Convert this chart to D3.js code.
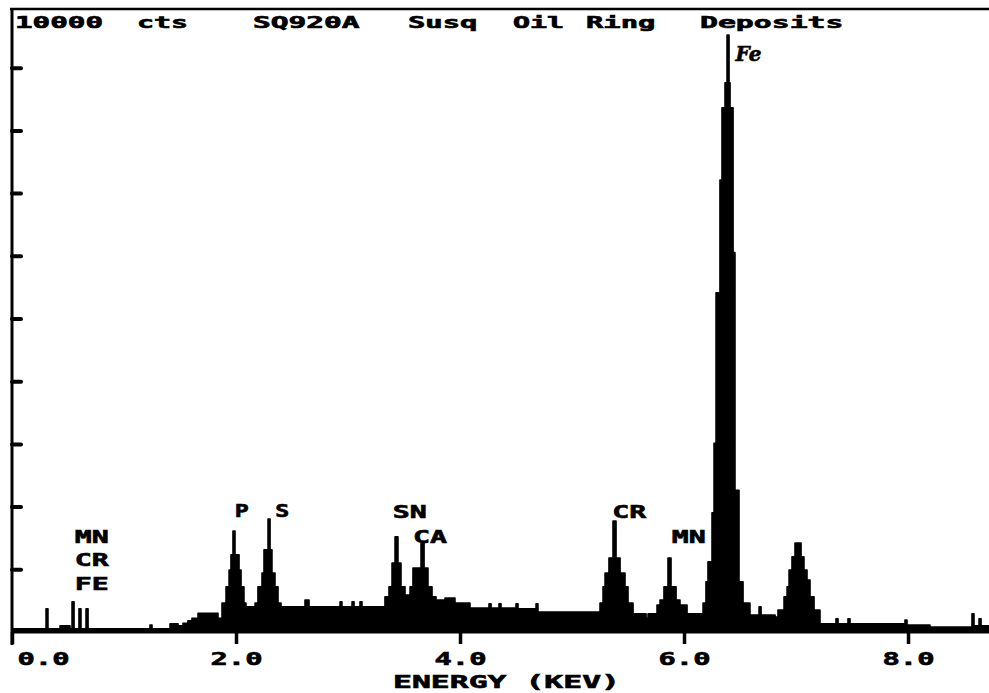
<!DOCTYPE html>
<script src="https://d3js.org/d3.v7.min.js"></script>

<style>
body {margin: 0; background: white;}
text {font-family: "DejaVu Sans Mono", monospace; font-weight: bold; fill: black; stroke: black; stroke-width: 0.6px;}
.fe {font-family: "DejaVu Serif", serif; font-style: italic; font-weight: bold;}
</style>

<svg width="989" height="693"></svg>

<script>
// spectrum outline: start of each step (keV) and its height (cts)
var energyKeV = [
  0.000, 0.304, 0.321, 0.429, 0.518, 0.536, 0.554, 0.598, 0.616, 0.661,
  0.679, 1.232, 1.250, 1.411, 1.482, 1.527, 1.571, 1.607, 1.661, 1.839,
  1.875, 1.911, 1.938, 1.955, 1.973, 1.991, 2.027, 2.045, 2.071, 2.089,
  2.170, 2.196, 2.232, 2.250, 2.286, 2.304, 2.321, 2.348, 2.375, 2.402,
  2.616, 2.652, 2.929, 2.946, 3.036, 3.054, 3.107, 3.125, 3.330, 3.366,
  3.393, 3.420, 3.446, 3.473, 3.509, 3.554, 3.580, 3.652, 3.679, 3.714,
  3.750, 3.786, 3.866, 3.955, 4.089, 4.259, 4.277, 4.348, 4.366, 4.500,
  4.518, 4.679, 4.696, 5.250, 5.277, 5.295, 5.330, 5.366, 5.393, 5.429,
  5.473, 5.500, 5.545, 5.661, 5.679, 5.759, 5.786, 5.821, 5.857, 5.884,
  5.929, 5.964, 6.027, 6.170, 6.196, 6.214, 6.250, 6.268, 6.286, 6.321,
  6.339, 6.366, 6.384, 6.402, 6.411, 6.438, 6.455, 6.491, 6.527, 6.589,
  6.670, 6.688, 6.813, 6.839, 6.893, 6.920, 6.938, 6.964, 6.991, 7.045,
  7.071, 7.098, 7.125, 7.161, 7.214, 7.357, 7.375, 7.464, 7.482, 7.973,
  7.991, 8.196, 8.571, 8.589, 8.634, 8.652, 8.723
];
var countsCts = [
  50, 370, 50, 100, 50, 480, 50, 370, 50, 370,
  50, 110, 50, 130, 100, 140, 180, 220, 300, 220,
  460, 720, 990, 1230, 1610, 1230, 990, 720, 460, 400,
  460, 720, 940, 1310, 1800, 1310, 940, 720, 460, 400,
  510, 400, 480, 400, 480, 400, 480, 400, 560, 720,
  1100, 1520, 1100, 720, 590, 720, 1020, 1420, 1020, 720,
  560, 510, 540, 460, 380, 450, 380, 450, 380, 450,
  370, 450, 320, 460, 720, 940, 1180, 1770, 1180, 940,
  720, 460, 290, 220, 290, 430, 510, 720, 1180, 720,
  510, 430, 290, 460, 800, 1120, 1900, 3010, 5410, 7210,
  8360, 8760, 9520, 8760, 8360, 6050, 2260, 800, 460, 270,
  400, 270, 240, 350, 560, 720, 990, 1200, 1420, 1200,
  990, 830, 560, 350, 130, 210, 130, 210, 130, 190,
  110, 80, 290, 100, 210, 100, 100
];

var xTicks = [0, 2, 4, 6, 8];
var yTicks = [1000, 2000, 3000, 4000, 5000, 6000, 7000, 8000, 9000];

var titleWords = ["10000", "cts", "SQ920A", "Susq", "Oil", "Ring", "Deposits"];
var titleLeft = [15, 137, 253, 408, 513, 586, 700];

// element markers: name, energy of its left edge (keV), baseline level (cts)
var elementNames = ["MN", "CR", "FE", "P", "S", "SN", "CA", "CR", "MN"];
var elementKeV = [0.56, 0.56, 0.56, 1.99, 2.35, 3.40, 3.58, 5.36, 5.89];
var elementCts = [1420, 1050, 670, 1830, 1830, 1820, 1420, 1820, 1420];

var svg = d3.select("svg"),
    width = +svg.attr("width"),
    height = +svg.attr("height");

var x = d3.scaleLinear().domain([0, 8.723]).range([12, width]);
var y = d3.scaleLinear().domain([0, 10000]).range([632, 5]);

var spectrum = energyKeV.map(function(e, i) { return {e: e, c: countsCts[i]}; });

var area = d3.area()
    .curve(d3.curveStepAfter)
    .x(function(d) { return x(d.e); })
    .y0(y(0))
    .y1(function(d) { return y(d.c); });

svg.append("path")
    .datum(spectrum)
    .attr("d", area)
    .attr("fill", "black")
    .attr("stroke", "black")
    .attr("stroke-width", 1.6)
    .attr("stroke-linejoin", "round");

// frame: top rule, left axis, baseline
svg.append("line").attr("x1", 10).attr("x2", width).attr("y1", 9).attr("y2", 9)
    .attr("stroke", "black").attr("stroke-width", 2.5);
svg.append("line").attr("x1", 12).attr("x2", 12).attr("y1", 8).attr("y2", 645)
    .attr("stroke", "black").attr("stroke-width", 3);
svg.append("line").attr("x1", 12).attr("x2", width).attr("y1", y(0)).attr("y2", y(0))
    .attr("stroke", "black").attr("stroke-width", 3);

var gy = svg.append("g")
    .attr("transform", "translate(12,0)")
    .call(d3.axisRight(y).tickValues(yTicks).tickSize(9).tickFormat(""));
gy.select(".domain").remove();
gy.selectAll(".tick line").attr("stroke", "black").attr("stroke-width", 4)
    .attr("stroke-linecap", "round");

var gx = svg.append("g")
    .attr("transform", "translate(0," + y(0) + ")")
    .attr("font-family", null).attr("font-size", null)
    .call(d3.axisBottom(x).tickValues(xTicks).tickSize(12).tickPadding(9)
        .tickFormat(d3.format(".1f")));
gx.select(".domain").remove();
gx.selectAll(".tick line").attr("stroke", "black").attr("stroke-width", 3.5);
gx.selectAll(".tick text")
    .attr("fill", "black")
    .style("font-size", "17px")
    .attr("textLength", 52)
    .attr("lengthAdjust", "spacingAndGlyphs");
gx.select(".tick text").attr("text-anchor", "start").attr("x", 5);

svg.append("text")
    .attr("x", 393).attr("y", 688)
    .style("font-size", "17px")
    .attr("textLength", 227)
    .attr("lengthAdjust", "spacingAndGlyphs")
    .text("ENERGY (KEV)");

svg.selectAll(".title").data(titleWords).enter().append("text")
    .attr("class", "title")
    .attr("x", function(d, i) { return titleLeft[i]; })
    .attr("y", 28)
    .style("font-size", "15px")
    .attr("textLength", function(d) { return d.length * 18.5 - 4.5; })
    .attr("lengthAdjust", "spacingAndGlyphs")
    .text(function(d) { return d; });

svg.selectAll(".elem").data(elementNames).enter().append("text")
    .attr("class", "elem")
    .attr("x", function(d, i) { return x(elementKeV[i]); })
    .attr("y", function(d, i) { return y(elementCts[i]); })
    .style("font-size", "17px")
    .attr("textLength", function(d) { return d.length * 20 - 6; })
    .attr("lengthAdjust", "spacingAndGlyphs")
    .text(function(d) { return d; });

svg.append("text")
    .attr("class", "fe")
    .attr("x", x(6.46)).attr("y", 61)
    .style("font-size", "20px")
    .text("Fe");
</script>
